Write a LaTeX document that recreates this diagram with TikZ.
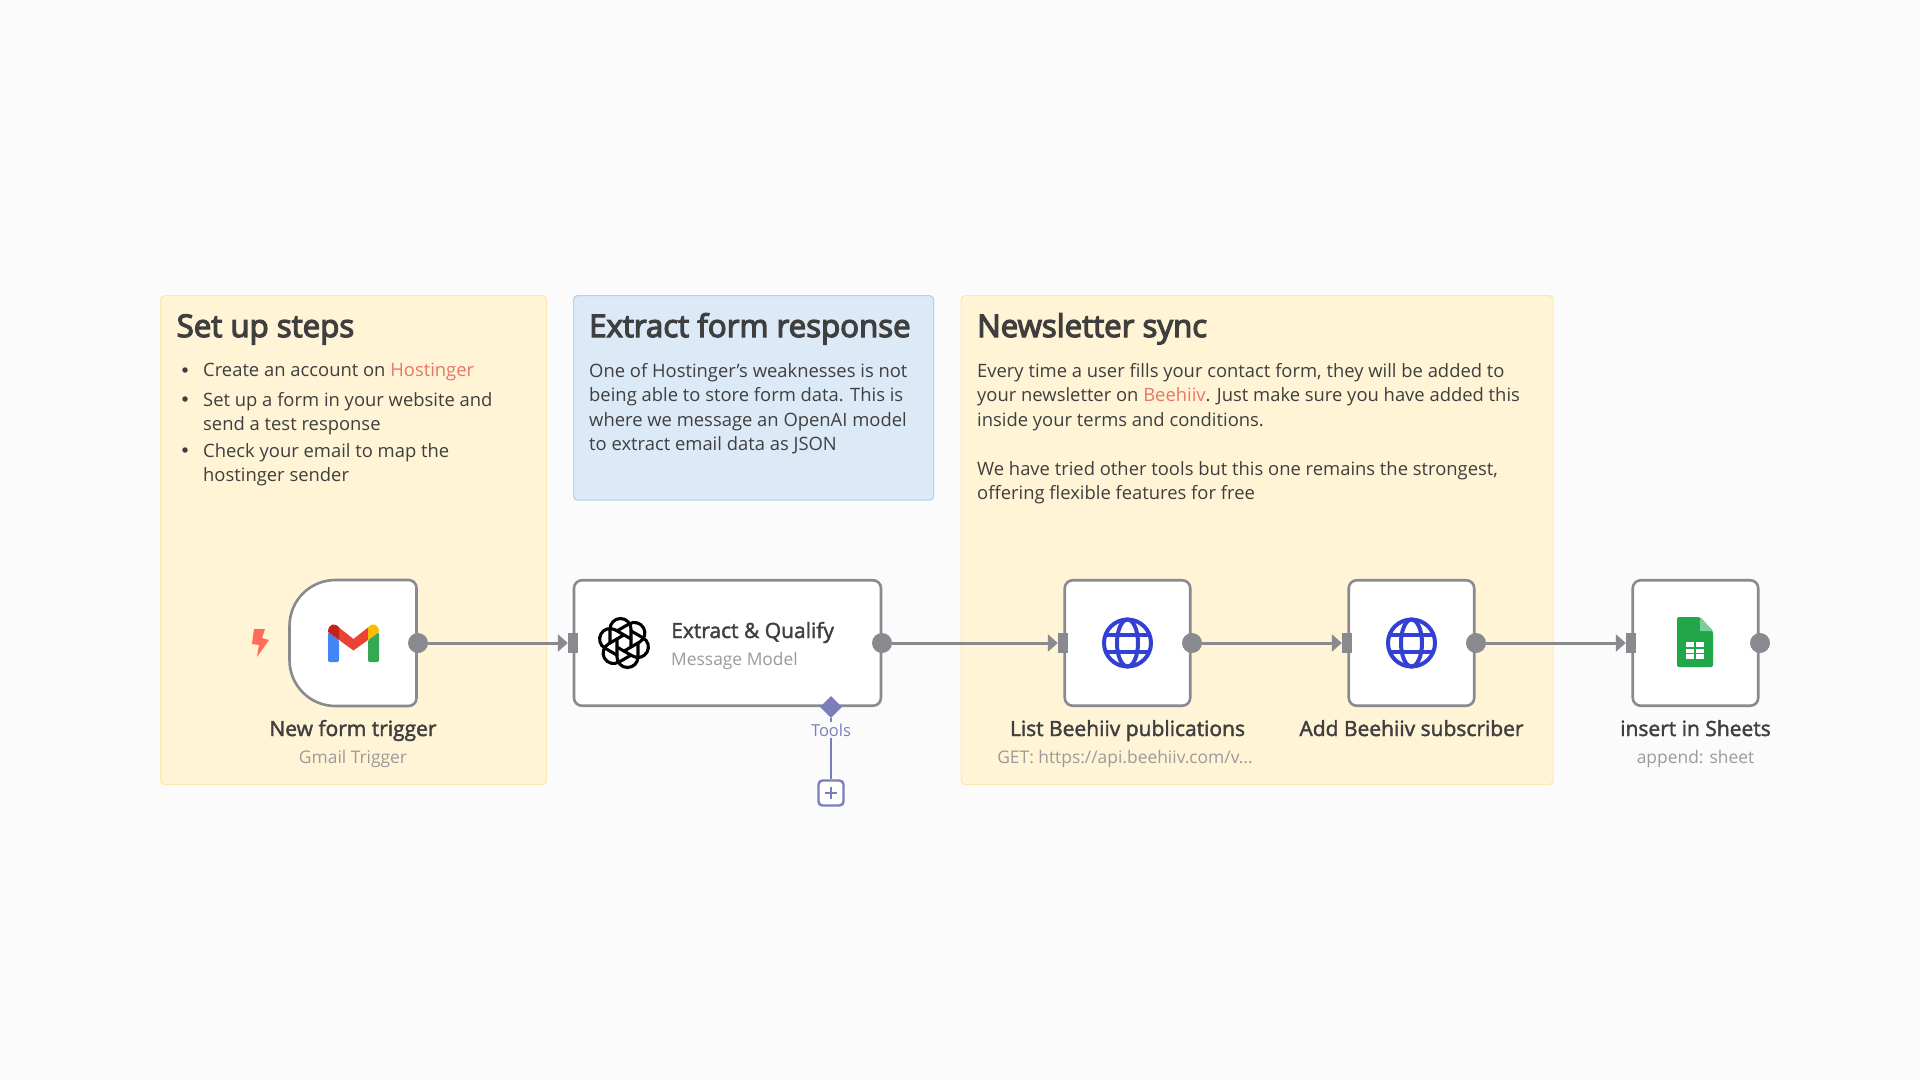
\documentclass[tikz,border=0pt]{standalone}
\usepackage{fontspec}
\usepackage{xcolor}
\usepackage{tikz}
\usetikzlibrary{arrows.meta,shapes.geometric}
\setmainfont{Open Sans}
\newfontfamily\headfont[FakeBold=4]{Open Sans}
\newfontfamily\titlefont[FakeBold=2]{Open Sans}
\definecolor{canvasbg}{HTML}{FBFBFB}
\definecolor{stickyyel}{HTML}{FFF4D6}
\definecolor{stickyyelb}{HTML}{FBE9B4}
\definecolor{stickyblu}{HTML}{DCEAF8}
\definecolor{stickyblub}{HTML}{B5D2EA}
\definecolor{wiregray}{HTML}{888A8F}
\definecolor{inktext}{HTML}{3F3F3F}
\definecolor{subtext}{HTML}{9B9B9B}
\definecolor{linkred}{HTML}{E8776A}
\definecolor{toolblue}{HTML}{7B7FB9}
\definecolor{globeblue}{HTML}{3341D3}
\definecolor{boltred}{HTML}{FF6D5A}
\definecolor{gblue}{HTML}{4285F4}
\definecolor{ggreen}{HTML}{34A853}
\definecolor{gred}{HTML}{EA4335}
\definecolor{gdark}{HTML}{C5221F}
\definecolor{gyellow}{HTML}{FBBC04}
\definecolor{sheetgreen}{HTML}{21A648}
\definecolor{sheetfold}{HTML}{80CC9A}
\tikzset{
  sticky/.style={draw=stickyyelb, fill=stickyyel, line width=1.2pt, rounded corners=4pt, anchor=north west, inner sep=0pt},
  stickyb/.style={sticky, draw=stickyblub, fill=stickyblu},
  nodebox/.style={draw=wiregray, fill=white, line width=2.6pt, rounded corners=8pt, minimum height=125.5pt, inner sep=0pt},
  outdot/.style={circle, fill=wiregray, minimum size=20pt, inner sep=0pt},
  inport/.style={rectangle, fill=wiregray, minimum width=10pt, minimum height=20pt, inner sep=0pt},
  wire/.style={draw=wiregray, line width=3pt, -{Triangle[length=10pt,width=17pt]}},
  headtext/.style={text=inktext, font=\fontsize{31.2}{36}\selectfont\headfont, anchor=base west, inner sep=0pt},
  bodytext/.style={text=inktext, font=\fontsize{18.4}{24.5}\selectfont, anchor=north west, align=left, inner sep=0pt},
  bullet/.style={circle, fill=inktext, minimum size=5.5pt, inner sep=0pt},
  nodetitle/.style={text=inktext, font=\fontsize{21}{24}\selectfont\titlefont, inner sep=0pt, anchor=base},
  nodesub/.style={text=subtext, font=\fontsize{17.4}{20}\selectfont, inner sep=0pt, anchor=base}
}
\begin{document}
\begin{tikzpicture}[x=1pt, y=-1pt]
  \useasboundingbox (0,0) rectangle (1920,1080);
  \fill[canvasbg] (0,0) rectangle (1920,1080);

  \node (stepsnote) [sticky, minimum width=386pt, minimum height=489pt] at (160,295) {};
  \node (extractnote) [stickyb, minimum width=360pt, minimum height=204.5pt] at (573,295) {};
  \node (syncnote) [sticky, minimum width=592pt, minimum height=489pt] at (960.5,295) {};

  \node (stepshead) [headtext] at (176.5,337) {Set up steps};
  \node (extracthead) [headtext] at (589,337) {Extract form response};
  \node (synchead) [headtext] at (977,337) {Newsletter sync};

  \node (dot1) [bullet] at (185,370) {};
  \node (dot2) [bullet] at (185,399) {};
  \node (dot3) [bullet] at (185,450) {};
  \node (step1) [bodytext] at (203,363) {Create an account on \textcolor{linkred}{Hostinger}};
  \node (step2) [bodytext] at (203,392) {Set up a form in your website and\\send a test response};
  \node (step3) [bodytext] at (203,443) {Check your email to map the\\hostinger sender};
  \node (extractbody) [bodytext] at (589,363) {One of Hostinger’s weaknesses is not\\being able to store form data. This is\\where we message an OpenAI model\\to extract email data as JSON};
  \node (syncbody) [bodytext] at (977,363) {Every time a user fills your contact form, they will be added to\\your newsletter on \textcolor{linkred}{Beehiiv}. Just make sure you have added this\\inside your terms and conditions.\\[24.5pt]We have tried other tools but this one remains the strongest,\\offering flexible features for free};

  \node (gmailbox) [minimum size=126pt, inner sep=0pt] at (353,643) {};
  \draw[wiregray, fill=white, line width=2.6pt] (335.5,580) -- (408.5,580) .. controls (413,580) and (416.5,583.5) .. (416.5,588) -- (416.5,698) .. controls (416.5,702.5) and (413,706) .. (408.5,706) -- (335.5,706) .. controls (310,706) and (289.5,685.5) .. (289.5,660) -- (289.5,626) .. controls (289.5,600.5) and (310,580) .. (335.5,580) -- cycle;
  \node (modelbox) [nodebox, minimum width=307pt] at (727.5,643) {};
  \node (listbox) [nodebox, minimum width=125.5pt] at (1127.5,643) {};
  \node (addbox) [nodebox, minimum width=125.5pt] at (1411.5,643) {};
  \node (sheetbox) [nodebox, minimum width=125.5pt] at (1695.5,643) {};

  \node (out1) [outdot] at (418,643) {};
  \node (out2) [outdot] at (882,643) {};
  \node (out3) [outdot] at (1192,643) {};
  \node (out4) [outdot] at (1476,643) {};
  \node (out5) [outdot] at (1760,643) {};
  \node (in2) [inport] at (573,643) {};
  \node (in3) [inport] at (1063,643) {};
  \node (in4) [inport] at (1347,643) {};
  \node (in5) [inport] at (1631,643) {};
  \draw[wire] (out1) -- (in2);
  \draw[wire] (out2) -- (in3);
  \draw[wire] (out3) -- (in4);
  \draw[wire] (out4) -- (in5);

  \node (toolport) [diamond, fill=toolblue, minimum width=22pt, minimum height=22pt, inner sep=0pt] at (831,707) {};
  \node (toolplus) [draw=toolblue, fill=white, line width=2.4pt, rounded corners=4pt, minimum size=25pt, inner sep=0pt] at (831,793) {};
  \draw[toolblue, line width=2.6pt] (toolport) -- (toolplus);
  \draw[toolblue, line width=2.4pt] (825,793) -- (837,793) (831,787) -- (831,799);
  \node (toollabel) [fill=canvasbg, text=toolblue, font=\fontsize{16.5}{18}\selectfont, inner sep=2pt] at (831,730) {Tools};

  \node (gmailname) [nodetitle] at (353,736) {New form trigger};
  \node (gmailsub) [nodesub] at (353,763) {Gmail Trigger};
  \node (modelname) [nodetitle, anchor=base west] at (671,638) {Extract \& Qualify};
  \node (modelsub) [nodesub, anchor=base west] at (671,665) {Message Model};
  \node (listname) [nodetitle] at (1127.5,736) {List Beehiiv publications};
  \node (listsub) [nodesub] at (1125,763) {GET: https://api.beehiiv.com/v...};
  \node (addname) [nodetitle] at (1411.5,736) {Add Beehiiv subscriber};
  \node (sheetname) [nodetitle] at (1695.5,736) {insert in Sheets};
  \node (sheetsub) [nodesub] at (1695.5,763) {append: sheet};

  \fill[boltred] (254,629) -- (265,629) -- (262,638) -- (269,640) -- (257,657) -- (259,645) -- (252,644) -- cycle;

  \fill[gblue, rounded corners=1.5pt] (328,632) -- (339,640) -- (339,662) -- (328,662) -- cycle;
  \fill[ggreen, rounded corners=1.5pt] (368,640) -- (379,632) -- (379,662) -- (368,662) -- cycle;
  \fill[gred] (339,627.5) -- (353.5,639) -- (368,627.5) -- (368,640) -- (353.5,650.5) -- (339,640) -- cycle;
  \fill[gdark] (328,632) .. controls (328,624) and (335,622) .. (339,627.5) -- (339,640) -- cycle;
  \fill[gyellow] (379,632) .. controls (379,624) and (372,622) .. (368,627.5) -- (368,640) -- cycle;

  \foreach \ang in {0,60,...,300}
    \draw[black, line width=3.1pt, line cap=round, shift={(624,643)}, rotate=\ang] (7,4) -- (7,-14) .. controls (7,-19.8) and (2.3,-24.5) .. (-3.5,-24.5) .. controls (-9.3,-24.5) and (-14,-19.8) .. (-14,-14) -- (-14,0);

  \foreach \cx in {1127.5,1411.5} {
    \draw[globeblue, line width=4pt] (\cx,643) circle (23.5);
    \draw[globeblue, line width=4pt] (\cx,643) ellipse (10.5 and 23.5);
    \draw[globeblue, line width=4pt] (\cx-21,635) -- (\cx+21,635) (\cx-21,651.5) -- (\cx+21,651.5);
  }

  \fill[sheetgreen, rounded corners=2pt] (1677,617) -- (1700,617) -- (1713,631) -- (1713,667) -- (1677,667) -- cycle;
  \fill[sheetfold] (1700,617) -- (1713,631) -- (1700,631) -- cycle;
  \fill[white] (1686,642) rectangle (1704,659);
  \draw[sheetgreen, line width=1.5pt] (1695,642) -- (1695,659) (1686,648) -- (1704,648) (1686,653.5) -- (1704,653.5);
\end{tikzpicture}
\end{document}
